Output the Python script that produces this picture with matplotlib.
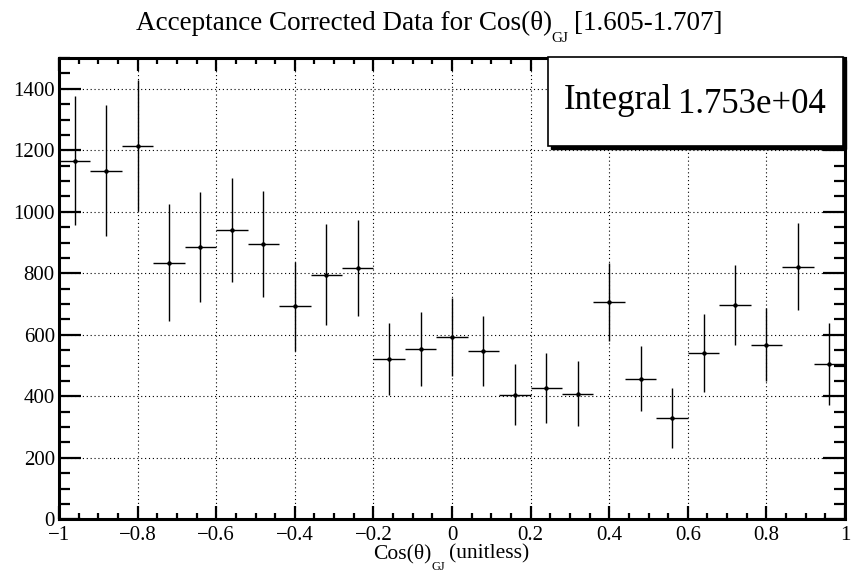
import numpy as np
import matplotlib
matplotlib.use("Agg")
import matplotlib.pyplot as plt
from matplotlib.ticker import MultipleLocator
from matplotlib.patches import Rectangle

plt.rcParams['font.family'] = ['Liberation Serif', 'DejaVu Serif']

# bin centres of cos(theta)_GJ, 25 bins over [-1, 1]
bin_centers = [-0.96, -0.88, -0.80, -0.72, -0.64, -0.56, -0.48, -0.40, -0.32, -0.24,
               -0.16, -0.08, 0.00, 0.08, 0.16, 0.24, 0.32, 0.40, 0.48, 0.56,
               0.64, 0.72, 0.80, 0.88, 0.96]
bin_half_width = 0.04
counts = [1166, 1134, 1215, 835, 886, 941, 895, 692, 796, 817,
          520, 553, 593, 548, 405, 427, 409, 707, 457, 330,
          540, 698, 568, 822, 505]
errors = [210, 212, 214, 190, 179, 169, 171, 145, 164, 157,
          117, 120, 127, 113, 99, 113, 106, 127, 105, 98,
          127, 130, 119, 142, 133]
x_ticklabels = ['\u22121', '\u22120.8', '\u22120.6', '\u22120.4', '\u22120.2',
                '0', '0.2', '0.4', '0.6', '0.8', '1']
integral_text = "1.753e+04"

W, H = 851, 571
fig = plt.figure(figsize=(W / 100, H / 100), dpi=100)
ax = fig.add_axes([59 / W, 1 - 519.3 / H, (845 - 59) / W, (519.3 - 58) / H])

ax.errorbar(bin_centers, counts, xerr=bin_half_width, yerr=errors, fmt='o',
            color='black', ms=2.2, elinewidth=1.0, capsize=0, zorder=3)

ax.set_xlim(-1, 1)
ax.set_ylim(0, 1500)
ax.xaxis.set_minor_locator(MultipleLocator(0.05))
ax.yaxis.set_major_locator(MultipleLocator(200))
ax.yaxis.set_minor_locator(MultipleLocator(50))
ax.set_xticks(np.linspace(-1, 1, 11))
ax.set_xticklabels(x_ticklabels)

ax.grid(True, which='major', color='black', linestyle=(0, (1, 2.5)), linewidth=0.8)
ax.tick_params(which='both', direction='in', top=True, right=True, labelsize=15)
ax.tick_params(axis='x', which='major', length=9.4, width=1.6, pad=5)
ax.tick_params(axis='x', which='minor', length=4.3, width=1.6)
ax.tick_params(axis='y', which='major', length=15.8, width=1.6, pad=3)
ax.tick_params(axis='y', which='minor', length=7.9, width=1.6)
for s in ax.spines.values():
    s.set_linewidth(2.2)

renderer = fig.canvas.get_renderer()


def rich_text(xc, y_base, parts, zorder=7):
    # parts: (text, fontsize, drop in px, gap before in px); centred on xc (pixels)
    items = []
    total = 0
    for s, size, drop, gap in parts:
        t = fig.text(0, 0, s, fontsize=size, ha='left', va='baseline', zorder=zorder)
        w = t.get_window_extent(renderer).width
        items.append((t, drop, gap, w))
        total += gap + w
    x = xc - total / 2
    for t, drop, gap, w in items:
        x += gap
        t.set_position((x / W, 1 - (y_base + drop) / H))
        x += w


# title
rich_text(429, 29.5, [("Acceptance Corrected Data for Cos(θ)", 19.5, 0, 0),
                      ("GJ", 11, 13, 0),
                      ("[1.605-1.707]", 19.5, 0, 5)])

# x axis label
rich_text(451, 558.5, [("Cos(θ)", 15.5, 0, 0),
                       ("GJ", 9, 11, 0),
                       ("(unitless)", 15.5, 0, 3.5)])

# stat box with shadow
bx0, bx1 = 548 / W, 843 / W
by0, by1 = 1 - 146 / H, 1 - 57 / H
fig.patches.append(Rectangle((bx0 + 2.5 / W, by0 - 2.5 / H), bx1 - bx0, by1 - by0,
                             transform=fig.transFigure, facecolor='black',
                             edgecolor='black', zorder=5))
fig.patches.append(Rectangle((bx0, by0), bx1 - bx0, by1 - by0,
                             transform=fig.transFigure, facecolor='white',
                             edgecolor='black', linewidth=1.2, zorder=6))
fig.text(564 / W, 1 - 109 / H, "Integral", fontsize=25, ha='left', va='baseline', zorder=7)
fig.text(826 / W, 1 - 113 / H, integral_text, fontsize=25, ha='right', va='baseline', zorder=7)

fig.savefig("out.png", dpi=100)
